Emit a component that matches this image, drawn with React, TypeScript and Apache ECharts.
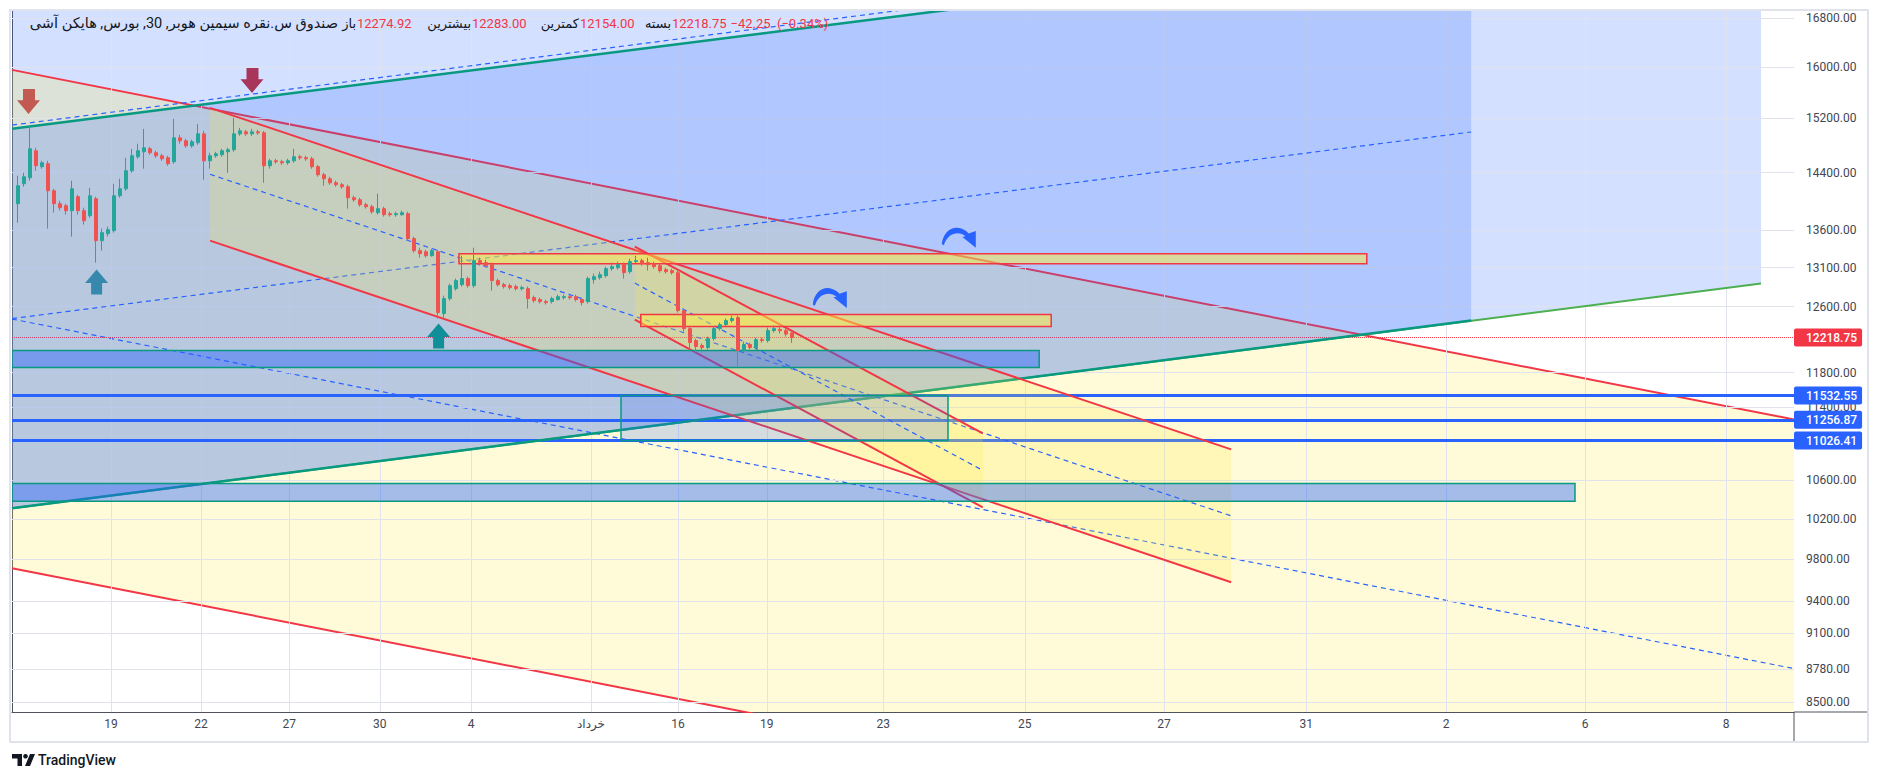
import React, { useEffect, useRef } from "react";
import * as echarts from "echarts";

const FONT = "Roboto, 'Noto Sans', 'DejaVu Sans', sans-serif";

// ---------- Heikin Ashi candles (30 min) ----------
const candleOpen = [
  13962, 14242, 14328, 14718, 14486, 14529, 14143, 13962, 13934, 13865,
  14059, 13865, 13796, 14031, 13457, 13551, 13592, 14073, 14171, 14428,
  14630, 14703, 14747, 14689, 14645, 14616, 14558, 14909, 14865, 14791,
  14836, 14968, 14572, 14645, 14660, 14703, 14733, 14968, 14998, 14968,
  14998, 14983, 14500, 14572, 14558, 14543, 14572, 14630, 14616, 14601,
  14486, 14370, 14313, 14256, 14228, 14200, 14045, 14017, 13948, 13920,
  13838, 13893, 13824, 13810, 13810, 13824, 13484, 13324, 13310, 13257,
  13310, 12514, 12702, 12829, 12880, 12958, 12867, 13192, 13166, 13139,
  12932, 12880, 12867, 12855, 12829, 12829, 12715, 12690, 12665, 12665,
  12690, 12715, 12727, 12727, 12690, 12665, 12945, 12970, 12996, 13087,
  13100, 13139, 13048, 13179, 13192, 13166, 13152, 13126, 13074, 13061,
  13035, 12551, 12328, 12182, 12122, 12098, 12206, 12328, 12377, 12427,
  12464, 12062, 12134, 12098, 12194, 12182, 12304, 12316, 12304, 12274.92,
];
const candleClose = [
  14214, 14342, 14747, 14500, 14543, 14143, 13962, 13906, 13865, 14171,
  13865, 13727, 14073, 13457, 13565, 13605, 14073, 14171, 14428, 14645,
  14718, 14762, 14689, 14645, 14601, 14529, 14909, 14865, 14791, 14850,
  14968, 14572, 14645, 14674, 14718, 14733, 14968, 15013, 14968, 14998,
  14983, 14500, 14572, 14558, 14543, 14572, 14630, 14616, 14601, 14486,
  14370, 14313, 14256, 14228, 14200, 14045, 14017, 13948, 13920, 13851,
  13893, 13810, 13810, 13824, 13838, 13484, 13324, 13284, 13257, 13324,
  12526, 12702, 12867, 12932, 12958, 12867, 13192, 13166, 13126, 12932,
  12880, 12855, 12842, 12829, 12842, 12702, 12677, 12665, 12652, 12702,
  12727, 12727, 12715, 12690, 12652, 12958, 12983, 13009, 13087, 13113,
  13139, 13035, 13179, 13192, 13152, 13139, 13113, 13061, 13048, 13035,
  12551, 12328, 12158, 12110, 12098, 12206, 12328, 12377, 12427, 12452,
  12062, 12134, 12098, 12194, 12182, 12304, 12328, 12304, 12261, 12218.75,
];
const candleLow = [
  13700, 14200, 14285, 14428, 14457, 13619, 13838, 13865, 13810, 13511,
  13810, 13673, 13769, 13166, 13324, 13511, 13565, 14045, 14143, 14399,
  14601, 14457, 14660, 14616, 14572, 14500, 14529, 14821, 14762, 14762,
  14806, 14299, 14457, 14616, 14630, 14399, 14703, 14939, 14939, 14939,
  14954, 14256, 14457, 14529, 14514, 14514, 14543, 14587, 14572, 14457,
  14342, 14214, 14228, 14200, 14171, 13893, 13989, 13920, 13893, 13824,
  13810, 13782, 13782, 13782, 13796, 13457, 13297, 13231, 13231, 13244,
  12452, 12464, 12677, 12804, 12855, 12842, 12842, 13126, 13100, 12804,
  12855, 12829, 12816, 12804, 12804, 12576, 12652, 12639, 12627, 12639,
  12677, 12690, 12690, 12665, 12614, 12639, 12893, 12945, 12970, 13061,
  13074, 12958, 13022, 13152, 13126, 13061, 13087, 13035, 13022, 13009,
  12526, 12292, 12062, 12038, 12038, 12074, 12182, 12304, 12353, 12402,
  11871, 12038, 12074, 12074, 12158, 12158, 12280, 12268, 12231, 12154,
];
const candleHigh = [
  14356, 14399, 15088, 14762, 14572, 14572, 14171, 14003, 13962, 14285,
  14087, 13906, 14185, 14059, 13619, 13646, 14242, 14313, 14616, 14747,
  14821, 15043, 14777, 14718, 14674, 14645, 15194, 14954, 14895, 14880,
  15118, 15013, 14689, 14703, 14747, 14762, 15209, 15058, 15028, 15043,
  15028, 15013, 14601, 14601, 14587, 14601, 14747, 14660, 14645, 14630,
  14514, 14399, 14342, 14285, 14256, 14228, 14073, 14045, 13976, 13948,
  14101, 13920, 13851, 13851, 13865, 13851, 13511, 13363, 13337, 13350,
  13337, 12740, 12893, 12958, 13257, 12983, 13363, 13231, 13205, 13166,
  12958, 12906, 12893, 12880, 12867, 12855, 12740, 12715, 12690, 12727,
  12753, 12753, 12753, 12753, 12715, 12983, 13022, 13048, 13113, 13166,
  13179, 13166, 13218, 13257, 13218, 13231, 13179, 13152, 13100, 13087,
  13061, 12576, 12353, 12206, 12146, 12231, 12353, 12402, 12452, 12489,
  12489, 12170, 12158, 12218, 12218, 12341, 12365, 12353, 12328, 12283,
];

// ---------- axes ----------
const xTickValues = [16.5, 31.5, 46.2, 61.3, 76.5, 96.5, 111, 125.8, 145.2, 168.8, 192, 215.7, 239, 262.2, 285.7];
const xTickLabels = ["19", "22", "27", "30", "4", "خرداد", "16", "19", "23", "25", "27", "31", "2", "6", "8"];
const yTickValues = [16800, 16000, 15200, 14400, 13600, 13100, 12600, 11800, 11400, 10600, 10200, 9800, 9400, 9100, 8780, 8500];
const X_MIN = 0;
const X_MAX = 297;
const Y_MIN = 8414;
const Y_MAX = 16917;

// ---------- horizontal levels ----------
const levelValues = [11532.55, 11256.87, 11026.41];
const lastPrice = 12218.75;

// ---------- drawings, in [bar index, price] ----------
const lightChannelFill = [[0, Y_MAX], [291.5, Y_MAX], [291.5, 12894], [0, 10307]];
const greenTrend = [[0, 10307], [291.5, 12894]];
const blueChannelFill = [[0, 15043], [153.3, Y_MAX], [243.2, Y_MAX], [243.2, 12427], [0, 10307]];
const tealUpper = [[0, 15043], [243.2, 18094]];
const tealLower = [[0, 10307], [243.2, 12427]];
const tealMid = [[0, 12452], [243.2, 14996]];
const tealOuterDash = [[0, 15099], [243.2, 18221]];

const ch1Fill = [[0, 15953], [297, 11261], [297, Y_MIN], [122.2, Y_MIN], [0, 9710]];
const ch1Upper = [[0, 15953], [297, 11261]];
const ch1Lower = [[0, 9710], [297, 6854]];
const ch1Mid = [[0, 12446], [297, 8786]];

const ch2Upper = [[33, 15361], [203.2, 10930]];
const ch2Lower = [[33, 13457], [203.2, 9575]];
const ch2Mid = [[33, 14377], [203.2, 10230]];

const ch3Upper = [[103.8, 13377], [161.8, 11106]];
const ch3Lower = [[103.8, 12439], [161.8, 10317]];
const ch3Mid = [[103.8, 12900], [161.8, 10704]];

// zones: [left index, right index, top price, bottom price]
const yellowZoneLeft = [74.5, 104.8];
const yellowZoneRight = [225.8, 173.2];
const yellowZoneTop = [13284, 12502];
const yellowZoneBottom = [13152, 12353];

const blueZoneLeft = [0, 101.5, 0];
const blueZoneRight = [171.2, 156, 260.5];
const blueZoneTop = [12062, 11532.55, 10566];
const blueZoneBottom = [11860, 11026.41, 10379];

// arrows
const arrowIndex = [2.75, 40, 14.1, 71.1, 157.8, 136.3];
const arrowPrice = [15460, 15787, 12913, 12237, 13497, 12709];
const arrowKind = ["down", "down", "up", "up", "curve", "curve"];

// ---------- styles ----------
const RED = "#f23645";
const BLUE = "#2962ff";
const TEAL = "#089981";
const UP = "#26a69a";
const DOWN = "#ef5350";
const arrowColors = ["#c25a52", "#a8355a", "#3a9399", "#0b9a7f", BLUE, BLUE];
const DOWN_PATH = "path://M6,0L18,0L18,11L23,11L11.5,24L0,11L6,11Z";
const UP_PATH = "path://M11.5,0L23,13L17,13L17,24L6,24L6,13L0,13Z";
const CURVE_PATH = "path://M0,16C1,6 10,0 19,3C22,4 24,5 26,7L33,5L33,19L20,10L23,9.5C17,5 6,6 2,17Z";

function polygonSeries(pts: number[][], fill: string, z: number, stroke?: string, lineWidth?: number) {
  const n = pts.length;
  return {
    type: "custom",
    z,
    silent: true,
    clip: true,
    data: [pts.flat()],
    renderItem: (_params: any, api: any) => {
      const points: number[][] = [];
      for (let k = 0; k < n; k++) points.push(api.coord([api.value(2 * k), api.value(2 * k + 1)]));
      return {
        type: "polygon",
        shape: { points },
        style: { fill, stroke: stroke || null, lineWidth: lineWidth || 0 },
      };
    },
  };
}

function rectsSeries(left: number[], right: number[], top: number[], bottom: number[], fills: string[], stroke: string, z: number) {
  return {
    type: "custom",
    z,
    silent: true,
    clip: true,
    data: left.map((l, k) => [l, top[k], right[k], bottom[k], k]),
    renderItem: (_params: any, api: any) => {
      const p1 = api.coord([api.value(0), api.value(1)]);
      const p2 = api.coord([api.value(2), api.value(3)]);
      const k = api.value(4);
      return {
        type: "rect",
        shape: { x: p1[0], y: p1[1], width: p2[0] - p1[0], height: p2[1] - p1[1] },
        style: { fill: fills[k], stroke, lineWidth: 1.5 },
      };
    },
  };
}

function lineSeries(pts: number[][], color: string, width: number, type: any, z: number) {
  return {
    type: "line",
    z,
    data: pts,
    symbol: "none",
    silent: true,
    clip: true,
    lineStyle: { color, width, type },
  };
}

function levelLabel(text: string, bg: string) {
  return {
    show: true,
    position: "end",
    formatter: text,
    backgroundColor: bg,
    color: "#ffffff",
    padding: [3, 5, 3, 12],
    fontSize: 12,
    fontFamily: FONT,
    fontWeight: 500,
    distance: 0,
    borderRadius: 2,
  };
}

export default function App() {
  const ref = useRef<HTMLDivElement>(null);

  useEffect(() => {
    document.body.style.margin = "0";
    if (!ref.current) return;
    const chart = echarts.init(ref.current, undefined, { renderer: "svg" });

    const candleData = candleOpen.map((o, k) => [k + 1, o, candleClose[k], candleLow[k], candleHigh[k]]);

    const headerY = 23;
    const headerItems: any[] = [
      { t: "صندوق س.نقره سیمین هوبر, 30, بورس, هایکن آشی", x: 338, align: "right", c: "#131722", s: 14.5 },
      { t: "باز", x: 356, align: "right", c: "#131722", s: 13 },
      { t: "12274.92", x: 357, align: "left", c: RED, s: 13 },
      { t: "بیشترین", x: 471, align: "right", c: "#131722", s: 13 },
      { t: "12283.00", x: 472, align: "left", c: RED, s: 13 },
      { t: "کمترین", x: 579, align: "right", c: "#131722", s: 13 },
      { t: "12154.00", x: 580, align: "left", c: RED, s: 13 },
      { t: "بسته", x: 671, align: "right", c: "#131722", s: 13 },
      { t: "12218.75", x: 672, align: "left", c: RED, s: 13 },
      { t: "  −42.25  (−0.34%)", x: 724, align: "left", c: RED, s: 13 },
    ];

    const option: any = {
      animation: false,
      backgroundColor: "#ffffff",
      grid: { left: 12, right: 85, top: 11, bottom: 69, show: false },
      xAxis: {
        type: "value",
        min: X_MIN,
        max: X_MAX,
        splitLine: { show: false },
        axisTick: { show: false },
        axisLine: { show: true, lineStyle: { color: "#50535e", width: 1 } },
        axisLabel: {
          customValues: xTickValues,
          margin: 6,
          color: "#434651",
          fontSize: 12,
          fontFamily: FONT,
          formatter: (v: number) => {
            let best = 0;
            for (let k = 1; k < xTickValues.length; k++) {
              if (Math.abs(xTickValues[k] - v) < Math.abs(xTickValues[best] - v)) best = k;
            }
            return xTickLabels[best];
          },
        },
      },
      yAxis: {
        type: "log",
        logBase: 10,
        min: Y_MIN,
        max: Y_MAX,
        position: "right",
        splitLine: { show: false },
        axisTick: { show: false },
        axisLine: { show: true, lineStyle: { color: "#50535e", width: 1 } },
        axisLabel: {
          customValues: yTickValues,
          margin: 12,
          color: "#434651",
          fontSize: 12,
          fontFamily: FONT,
          formatter: (v: number) => Number(v).toFixed(2),
        },
      },
      series: [
        // grid lines
        {
          type: "line",
          z: 1,
          data: [],
          silent: true,
          clip: false,
          markLine: {
            silent: true,
            symbol: ["none", "none"],
            label: { show: false },
            lineStyle: { color: "#e0e3eb", width: 1, type: "solid" },
            data: [
              ...yTickValues.map((v) => ({ yAxis: v })),
              ...xTickValues.map((v) => ({ xAxis: v })),
            ],
          },
        },
        polygonSeries(lightChannelFill, "rgba(41,98,255,0.2)", 2),
        polygonSeries(ch1Fill, "rgba(255,235,59,0.2)", 3),
        lineSeries(ch1Upper, RED, 2, "solid", 4),
        lineSeries(ch1Lower, RED, 2, "solid", 4),
        lineSeries(ch1Mid, BLUE, 1.2, [5, 4], 4),
        polygonSeries(blueChannelFill, "rgba(41,98,255,0.2)", 5),
        lineSeries(greenTrend, "#4caf50", 2, "solid", 6),
        lineSeries(tealLower, TEAL, 2.5, "solid", 6),
        lineSeries(tealUpper, TEAL, 2.5, "solid", 6),
        lineSeries(tealMid, BLUE, 1.2, [5, 4], 6),
        lineSeries(tealOuterDash, BLUE, 1.2, [5, 4], 6),
        polygonSeries([ch2Upper[0], ch2Upper[1], ch2Lower[1], ch2Lower[0]], "rgba(255,235,59,0.2)", 7),
        lineSeries(ch2Upper, RED, 2, "solid", 8),
        lineSeries(ch2Lower, RED, 2, "solid", 8),
        lineSeries(ch2Mid, BLUE, 1.2, [5, 4], 8),
        polygonSeries([ch3Upper[0], ch3Upper[1], ch3Lower[1], ch3Lower[0]], "rgba(255,235,59,0.2)", 9),
        lineSeries(ch3Upper, RED, 2, "solid", 10),
        lineSeries(ch3Lower, RED, 2, "solid", 10),
        lineSeries(ch3Mid, BLUE, 1.2, [5, 4], 10),
        rectsSeries(yellowZoneLeft, yellowZoneRight, yellowZoneTop, yellowZoneBottom,
          ["rgba(255,235,59,0.5)", "rgba(255,235,59,0.5)"], RED, 11),
        rectsSeries(blueZoneLeft, blueZoneRight, blueZoneTop, blueZoneBottom,
          ["rgba(41,98,255,0.45)", "rgba(41,98,255,0.2)", "rgba(41,98,255,0.42)"], TEAL, 11),
        // levels and last price
        {
          type: "line",
          z: 12,
          data: [],
          silent: true,
          clip: false,
          markLine: {
            silent: true,
            symbol: ["none", "none"],
            data: [
              ...levelValues.map((v) => ({
                yAxis: v,
                lineStyle: { color: BLUE, width: 3, type: "solid" },
                label: levelLabel(v.toFixed(2), BLUE),
              })),
              {
                yAxis: lastPrice,
                lineStyle: { color: RED, width: 1, type: "dotted" },
                label: levelLabel(lastPrice.toFixed(2), RED),
              },
            ],
          },
        },
        {
          type: "candlestick",
          z: 13,
          silent: true,
          barWidth: 4,
          data: candleData,
          encode: { x: 0, y: [1, 2, 3, 4] },
          itemStyle: { color: UP, color0: DOWN, borderColor: UP, borderColor0: DOWN, borderWidth: 1 },
        },
        {
          type: "scatter",
          z: 14,
          data: [],
          silent: true,
          clip: false,
          markPoint: {
            silent: true,
            label: { show: false },
            data: arrowIndex.map((x, k) => ({
              coord: [x, arrowPrice[k]],
              symbol: arrowKind[k] === "down" ? DOWN_PATH : arrowKind[k] === "up" ? UP_PATH : CURVE_PATH,
              symbolSize: arrowKind[k] === "curve" ? [34, 20] : [23, 25],
              symbolKeepAspect: false,
              itemStyle: { color: arrowColors[k] },
            })),
          },
        },
      ],
      graphic: [
        {
          type: "rect",
          silent: true,
          z: 100,
          shape: { x: 10, y: 10, width: 1858, height: 732 },
          style: { fill: "none", stroke: "#e0e3eb", lineWidth: 2 },
        },
        {
          type: "line",
          silent: true,
          z: 101,
          shape: { x1: 1794, y1: 712, x2: 1867, y2: 712 },
          style: { stroke: "#50535e", lineWidth: 1 },
        },
        {
          type: "line",
          silent: true,
          z: 101,
          shape: { x1: 1794, y1: 712, x2: 1794, y2: 741 },
          style: { stroke: "#50535e", lineWidth: 1 },
        },
        ...headerItems.map((h) => ({
          type: "text",
          silent: true,
          z: 102,
          x: h.x,
          y: headerY,
          style: {
            text: h.t,
            fill: h.c,
            fontSize: h.s,
            fontFamily: FONT,
            align: h.align,
            verticalAlign: "middle",
          },
        })),
        // TradingView logo
        {
          type: "polygon",
          silent: true,
          z: 102,
          shape: { points: [[12, 754], [22, 754], [22, 766], [17.5, 766], [17.5, 758.5], [12, 758.5]] },
          style: { fill: "#131722" },
        },
        {
          type: "circle",
          silent: true,
          z: 102,
          shape: { cx: 25.5, cy: 756.3, r: 2.3 },
          style: { fill: "#131722" },
        },
        {
          type: "polygon",
          silent: true,
          z: 102,
          shape: { points: [[30, 754], [35, 754], [30, 766], [25, 766]] },
          style: { fill: "#131722" },
        },
        {
          type: "text",
          silent: true,
          z: 102,
          x: 38,
          y: 760,
          style: {
            text: "TradingView",
            fill: "#131722",
            fontSize: 14,
            fontWeight: 500,
            fontFamily: FONT,
            align: "left",
            verticalAlign: "middle",
          },
        },
      ],
    };

    chart.setOption(option);
    return () => chart.dispose();
  }, []);

  return <div ref={ref} style={{ width: 1879, height: 781, background: "#ffffff" }} />;
}
